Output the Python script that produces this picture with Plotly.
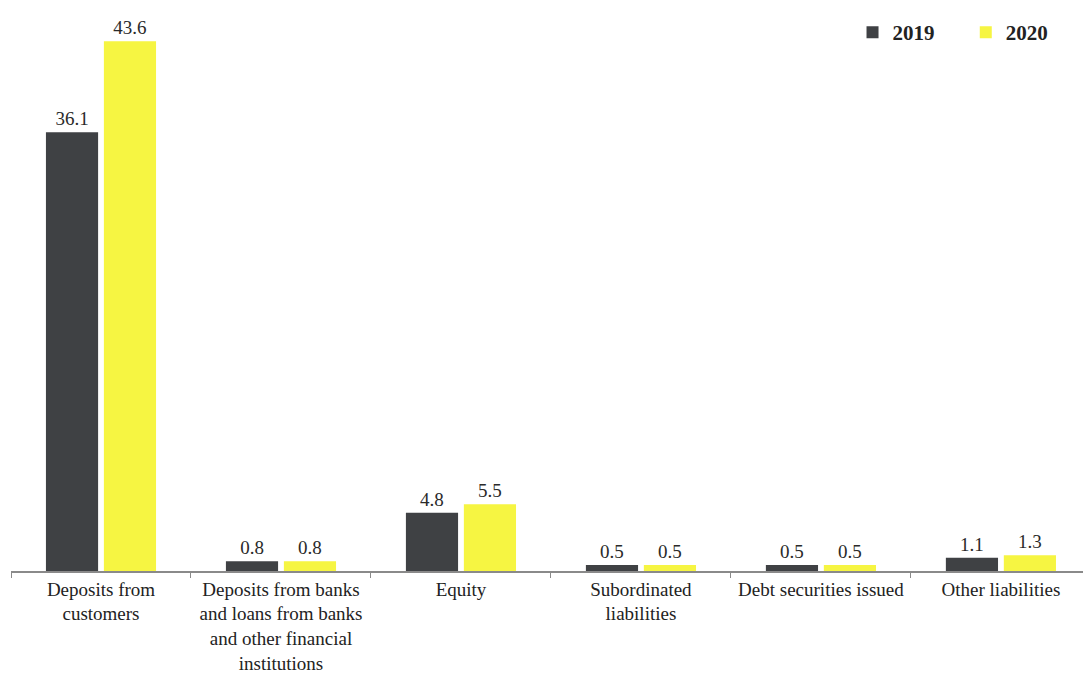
import plotly.graph_objects as go

categories = ["Deposits from<br>customers",
              "Deposits from banks<br>and loans from banks<br>and other financial<br>institutions",
              "Equity", "Subordinated<br>liabilities", "Debt securities issued", "Other liabilities"]
v2019 = [36.1, 0.8, 4.8, 0.5, 0.5, 1.1]
v2020 = [43.6, 0.8, 5.5, 0.5, 0.5, 1.3]

font_serif = "'Times New Roman', 'Liberation Serif', 'DejaVu Serif', serif"

fig = go.Figure()
fig.add_trace(go.Bar(name="2019     ", x=categories, y=v2019, marker_color="#3f4144",
                     marker_line_width=0,
                     text=[f"{v:.1f}" for v in v2019], textposition="outside",
                     textfont=dict(family=font_serif, size=19, color="#2a2a2a"), cliponaxis=False))
fig.add_trace(go.Bar(name="2020", x=categories, y=v2020, marker_color="#f6f542",
                     marker_line_width=0,
                     text=[f"{v:.1f}" for v in v2020], textposition="outside",
                     textfont=dict(family=font_serif, size=19, color="#2a2a2a"), cliponaxis=False))

fig.update_layout(
    width=1083, height=676,
    margin=dict(l=11, r=0, t=12, b=105),
    paper_bgcolor="white", plot_bgcolor="white",
    barmode="group", bargap=0.356, bargroupgap=0.1,
    font=dict(family=font_serif, size=19, color="#222"),
    legend=dict(orientation="h", x=0.785, y=1.0, xanchor="left", yanchor="top",
                font=dict(family=font_serif, size=21, color="#222", weight="bold"),
                itemwidth=30, traceorder="normal", bgcolor="rgba(0,0,0,0)"),
    showlegend=True,
)
fig.update_xaxes(showline=True, linecolor="#8a8a8a", linewidth=1.5,
                 ticks="outside", tickson="boundaries", ticklen=5, tickcolor="#8a8a8a",
                 tickfont=dict(family=font_serif, size=19, color="#222"),
                 range=[-0.5, 5.456], showgrid=False)
fig.update_yaxes(visible=False, range=[0, 46], showgrid=False)

fig.write_html("out.html")
